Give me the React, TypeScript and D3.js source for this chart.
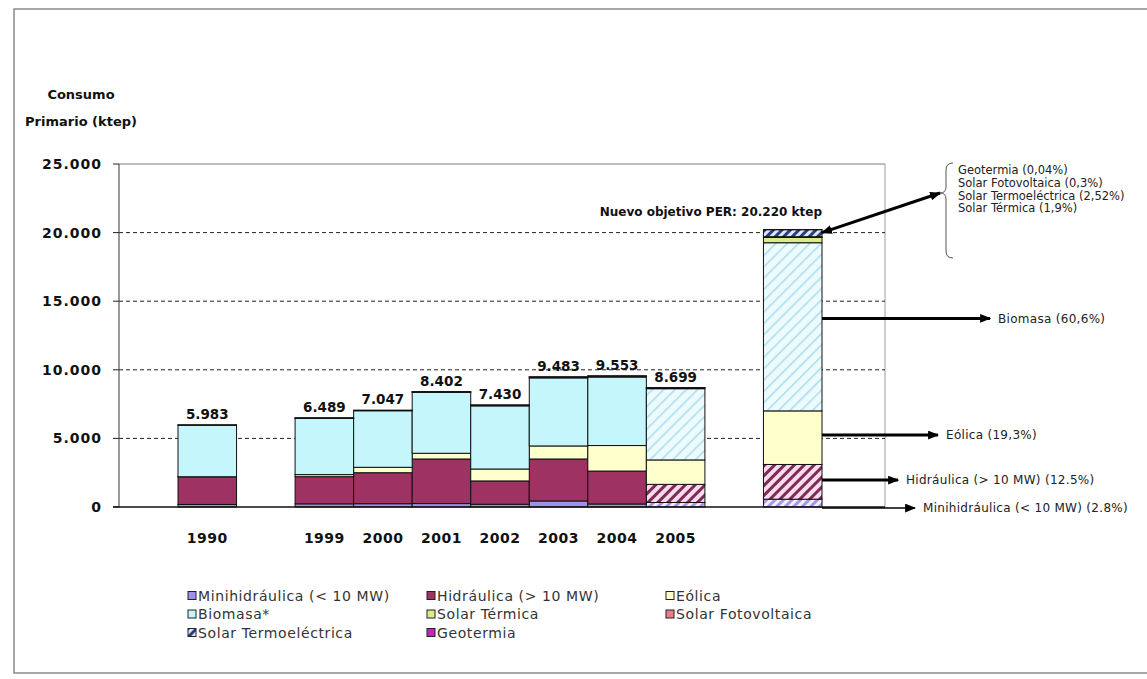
import React from "react";
import * as d3 from "d3";

// Consumo primario de energías renovables (ktep) por año y objetivo PER
const categories = ["1990", "1999", "2000", "2001", "2002", "2003", "2004", "2005", "Objetivo PER"];
const tickLabels = ["1990", "1999", "2000", "2001", "2002", "2003", "2004", "2005", ""];

const minihidraulica = [184, 230, 240, 250, 200, 440, 220, 330, 570];
const hidraulica = [2020, 1980, 2260, 3250, 1700, 3060, 2400, 1320, 2530];
const eolica = [1, 150, 394, 415, 870, 950, 1860, 1780, 3905];
const biomasa = [3753, 4100, 4120, 4440, 4600, 4960, 4990, 5193, 12257];
const solarTermica = [22, 25, 27, 40, 50, 60, 70, 60, 385];
const solarFotovoltaica = [0, 1, 2, 3, 4, 5, 5, 8, 55];
const solarTermoelectrica = [0, 0, 0, 0, 0, 0, 0, 0, 510];
const geotermia = [3, 3, 4, 4, 6, 8, 8, 8, 8];

const seriesKeys = ["mini", "hidro", "eolica", "biomasa", "solarT", "fv", "termo", "geo"];
const seriesNames = [
  "Minihidráulica (< 10 MW)",
  "Hidráulica (> 10 MW)",
  "Eólica",
  "Biomasa*",
  "Solar Térmica",
  "Solar Fotovoltaica",
  "Solar Termoeléctrica",
  "Geotermia",
];
const seriesValues = [
  minihidraulica,
  hidraulica,
  eolica,
  biomasa,
  solarTermica,
  solarFotovoltaica,
  solarTermoelectrica,
  geotermia,
];
const seriesColors = ["#9f90ee", "#9e3262", "#ffffcc", "#c4f6fb", "#d8ec8c", "#e8808c", "#3c5fb0", "#cc22bb"];

// bars drawn with hatched fills (previsión / objetivo)
const hatchedCategories = ["2005", "Objetivo PER"];
const hatchedSeries = ["mini", "hidro", "biomasa", "termo"];

// legend, row-major in three columns
const legendOrder = ["mini", "hidro", "eolica", "biomasa", "solarT", "fv", "termo", "geo"];

// PER breakdown callouts
const perTopGroup = [
  { key: "geo", label: "Geotermia", digits: 2, sep: "," },
  { key: "fv", label: "Solar Fotovoltaica", digits: 1, sep: "," },
  { key: "termo", label: "Solar Termoeléctrica", digits: 2, sep: "," },
  { key: "solarT", label: "Solar Térmica", digits: 1, sep: "," },
];
const perArrows = [
  { key: "biomasa", label: "Biomasa", digits: 1, sep: ",", tipX: 990 },
  { key: "eolica", label: "Eólica", digits: 1, sep: ",", tipX: 938 },
  { key: "hidro", label: "Hidráulica (> 10 MW)", digits: 1, sep: ".", tipX: 898 },
  { key: "mini", label: "Minihidráulica (< 10 MW)", digits: 1, sep: ".", tipX: 915 },
];

const W = 1147;
const H = 679;
const FONT = "'DejaVu Sans', Verdana, sans-serif";

const esLocale = d3.formatLocale({ decimal: ",", thousands: ".", grouping: [3], currency: ["", " €"] });
const fmtThousands = esLocale.format(",.0f");

export default function App() {
  const rows = categories.map((c, i) => {
    const r: any = { category: c };
    seriesKeys.forEach((k, s) => (r[k] = seriesValues[s][i]));
    return r;
  });
  const stacked = d3.stack<any>().keys(seriesKeys)(rows);
  const totals = rows.map((r) => d3.sum(seriesKeys, (k) => r[k]));

  const slots = ["1990", "gapA", "1999", "2000", "2001", "2002", "2003", "2004", "2005", "gapB", "Objetivo PER"];
  const x = d3.scaleBand<string>().domain(slots).range([178, 822]).paddingInner(0).paddingOuter(0);
  const y = d3.scaleLinear().domain([0, 25000]).range([507, 164]);

  const plotLeft = 119;
  const plotRight = 885;
  const yTicks = y.ticks(5);

  const perIndex = categories.indexOf("Objetivo PER");
  const perTotal = totals[perIndex];
  const perX = x("Objetivo PER")!;
  const perRight = perX + x.bandwidth();

  const colorOf = (k: string) => seriesColors[seriesKeys.indexOf(k)];
  const fillFor = (k: string, cat: string) =>
    hatchedCategories.includes(cat) && hatchedSeries.includes(k) ? `url(#hatch-${k})` : colorOf(k);

  const pct = (k: string, digits: number, sep: string) => {
    const v = (rows[perIndex][k] / perTotal) * 100;
    return v.toFixed(digits).replace(".", sep) + "%";
  };

  const segOf = (k: string) => stacked[seriesKeys.indexOf(k)][perIndex];

  const topSeg = segOf("termo");
  const arrowStart = { x: perRight, y: y(topSeg[1]) + 3 };
  const braceTip = { x: 940, y: 193 };

  return (
    <svg
      width={W}
      height={H}
      style={{ position: "absolute", left: 0, top: 0, background: "#fff" }}
      fontFamily={FONT}
    >
      <defs>
        <pattern id="hatch-mini" width="6" height="6" patternUnits="userSpaceOnUse" patternTransform="rotate(45)">
          <rect width="6" height="6" fill="#f3efff" />
          <rect width="3" height="6" fill="#a796ee" />
        </pattern>
        <pattern id="hatch-hidro" width="7" height="7" patternUnits="userSpaceOnUse" patternTransform="rotate(45)">
          <rect width="7" height="7" fill="#f8dcee" />
          <rect width="3" height="7" fill="#7d2a55" />
        </pattern>
        <pattern id="hatch-biomasa" width="8" height="8" patternUnits="userSpaceOnUse" patternTransform="rotate(45)">
          <rect width="8" height="8" fill="#edfbfd" />
          <rect width="1.5" height="8" fill="#a9dcef" />
        </pattern>
        <pattern id="hatch-termo" width="6" height="6" patternUnits="userSpaceOnUse" patternTransform="rotate(45)">
          <rect width="6" height="6" fill="#dfe6ff" />
          <rect width="3" height="6" fill="#2b3f7c" />
        </pattern>
        <marker
          id="arrowHead"
          viewBox="0 0 10 8"
          refX="9"
          refY="4"
          markerWidth="11"
          markerHeight="9"
          markerUnits="userSpaceOnUse"
          orient="auto-start-reverse"
        >
          <path d="M0,0 L10,4 L0,8 Z" fill="#000" />
        </marker>
      </defs>

      {/* outer frame */}
      <rect x={14} y={9} width={W} height={664} fill="none" stroke="#8a8a8a" strokeWidth={1.5} />

      {/* axis title */}
      <text x={81} y={99} textAnchor="middle" fontSize={13} fontWeight="bold" fill="#111">
        Consumo
      </text>
      <text x={81} y={126} textAnchor="middle" fontSize={13} fontWeight="bold" fill="#111">
        Primario (ktep)
      </text>

      {/* plot frame */}
      <line x1={plotLeft} x2={plotRight} y1={y(25000)} y2={y(25000)} stroke="#7a7a7a" strokeWidth={1} />
      <line x1={plotRight} x2={plotRight} y1={y(25000)} y2={y(0)} stroke="#9a9a9a" strokeWidth={1} />

      {/* gridlines */}
      {yTicks
        .filter((t) => t > 0 && t < 25000)
        .map((t) => (
          <line
            key={"g" + t}
            x1={plotLeft}
            x2={plotRight}
            y1={y(t)}
            y2={y(t)}
            stroke="#222"
            strokeWidth={1}
            strokeDasharray="4,3"
          />
        ))}

      {/* stacked bars */}
      {stacked.map((layer) =>
        layer.map((d, i) => {
          const cat = categories[i];
          const h = y(d[0]) - y(d[1]);
          if (h <= 0) return null;
          return (
            <rect
              key={layer.key + cat}
              x={x(cat)}
              y={y(d[1])}
              width={x.bandwidth()}
              height={h}
              fill={fillFor(layer.key, cat)}
              stroke="#111"
              strokeWidth={1}
            />
          );
        })
      )}

      {/* y axis */}
      <line x1={plotLeft} x2={plotLeft} y1={y(25000)} y2={y(0)} stroke="#555" strokeWidth={1.2} />
      {yTicks.map((t) => (
        <g key={"t" + t}>
          <line x1={113} x2={plotLeft} y1={y(t)} y2={y(t)} stroke="#222" />
          <text
            x={102}
            y={y(t)}
            dy="0.36em"
            textAnchor="end"
            fontSize={14}
            fontWeight="bold"
            letterSpacing={1}
            fill="#111"
          >
            {fmtThousands(t)}
          </text>
        </g>
      ))}

      {/* baseline */}
      <line x1={113} x2={plotRight} y1={y(0)} y2={y(0)} stroke="#111" strokeWidth={1.5} />

      {/* category labels */}
      {categories.map((c, i) =>
        tickLabels[i] ? (
          <text
            key={"x" + c}
            x={x(c)! + x.bandwidth() / 2}
            y={543}
            textAnchor="middle"
            fontSize={14}
            fontWeight="bold"
            letterSpacing={0.5}
            fill="#111"
          >
            {tickLabels[i]}
          </text>
        ) : null
      )}

      {/* totals above the yearly bars */}
      {categories.map((c, i) =>
        tickLabels[i] ? (
          <text
            key={"v" + c}
            x={x(c)! + x.bandwidth() / 2}
            y={y(totals[i]) - 6}
            textAnchor="middle"
            fontSize={13.5}
            fontWeight="bold"
            fill="#111"
          >
            {fmtThousands(totals[i])}
          </text>
        ) : null
      )}

      {/* PER target label */}
      <text x={perRight} y={216} textAnchor="end" fontSize={12} fontWeight="bold" fill="#111">
        {`Nuevo objetivo PER: ${fmtThousands(perTotal)} ktep`}
      </text>

      {/* callout for the small solar / geothermal shares */}
      <line
        x1={arrowStart.x}
        y1={arrowStart.y}
        x2={braceTip.x}
        y2={braceTip.y}
        stroke="#000"
        strokeWidth={3}
        markerStart="url(#arrowHead)"
        markerEnd="url(#arrowHead)"
      />
      <path
        d="M953,163 Q946,163 946,170 L946,187 Q946,193 940,193 Q946,193 946,199 L946,251 Q946,258 953,258"
        fill="none"
        stroke="#555"
        strokeWidth={1}
      />
      {perTopGroup.map((g, j) => (
        <text key={"pg" + g.key} x={958} y={170 + j * 12.8} dy="0.35em" fontSize={11.5} fill="#222">
          {`${g.label} (${pct(g.key, g.digits, g.sep)})`}
        </text>
      ))}

      {/* arrows for the main PER shares */}
      {perArrows.map((a) => {
        const seg = segOf(a.key);
        const isBase = a.key === "mini";
        const ay = isBase ? y(0) + 1 : y(seg[0]) - 0.55 * (y(seg[0]) - y(seg[1]));
        return (
          <g key={"pa" + a.key}>
            <line
              x1={perRight}
              y1={ay}
              x2={a.tipX}
              y2={ay}
              stroke="#000"
              strokeWidth={isBase ? 1.5 : 3}
              markerEnd="url(#arrowHead)"
            />
            <text x={a.tipX + 8} y={ay} dy="0.35em" fontSize={12} letterSpacing={0.3} fill="#222">
              {`${a.label} (${pct(a.key, a.digits, a.sep)})`}
            </text>
          </g>
        );
      })}

      {/* legend */}
      {legendOrder.map((k, i) => {
        const col = i % 3;
        const row = Math.floor(i / 3);
        const lx = [188, 427, 666][col];
        const ly = 596 + row * 18.5;
        const fill = k === "termo" ? "url(#hatch-termo)" : colorOf(k);
        return (
          <g key={"l" + k}>
            <rect x={lx} y={ly - 4.5} width={8} height={8} fill={fill} stroke="#222" strokeWidth={1} />
            <text x={lx + 10} y={ly} dy="0.35em" fontSize={14} letterSpacing={0.6} fill="#333">
              {seriesNames[seriesKeys.indexOf(k)]}
            </text>
          </g>
        );
      })}
    </svg>
  );
}
